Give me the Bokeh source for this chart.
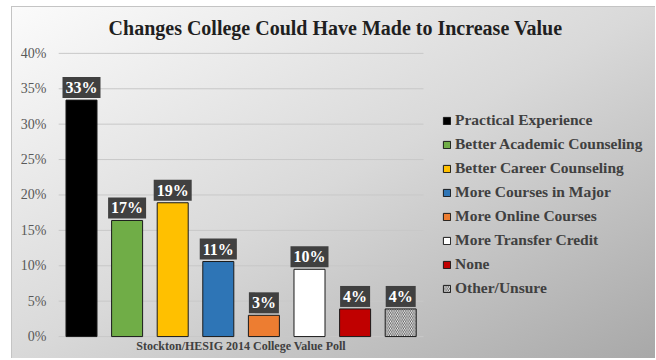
from bokeh.plotting import figure
from bokeh.models import ColumnDataSource, Label, Legend, LegendItem, PrintfTickFormatter, FixedTicker
from bokeh.core.properties import value
from bokeh.embed import file_html
from bokeh.resources import INLINE

# ---- data ----
categories = ["Practical Experience", "Better Academic Counseling", "Better Career Counseling",
              "More Courses in Major", "More Online Courses", "More Transfer Credit",
              "None", "Other/Unsure"]
values = [33.4, 16.4, 18.9, 10.6, 3.0, 9.5, 3.9, 3.9]
value_labels = ["33%", "17%", "19%", "11%", "3%", "10%", "4%", "4%"]
colors = ["#000000", "#70ad47", "#ffc000", "#2e75b6", "#ed7d31", "#ffffff", "#c00000", "#ffffff"]
hatches = [" ", " ", " ", " ", " ", " ", " ", "\\"]
y_ticks = [0, 5, 10, 15, 20, 25, 30, 35, 40]
title_text = "Changes College Could Have Made to Increase Value"
source_text = "Stockton/HESIG 2014 College Value Poll"

SERIF = "'Liberation Serif', 'Times New Roman', serif"
n = len(categories)
xs = list(range(n))

# layout (pixels)
fig_w, fig_h = 644, 352
left_border = 45
frame_w = fig_w - left_border
step_px = 45.6
px_per_unit = 7.1
zero_px_from_bottom = 23      # 0% line above the frame bottom
top_px = 46                   # 40% line below the frame top
x_start = -24 / step_px
x_end = x_start + frame_w / step_px
y_start = -zero_px_from_bottom / px_per_unit
y_end = y_ticks[-1] + top_px / px_per_unit

src = ColumnDataSource(dict(x=xs, top=values, color=colors, hatch=hatches,
                            label=value_labels, cat=categories))

p = figure(width=fig_w, height=fig_h, output_backend="svg", toolbar_location=None,
           x_range=(x_start, x_end), y_range=(y_start, y_end), x_axis_location=None,
           min_border_left=left_border, min_border_right=0, min_border_top=0, min_border_bottom=0)
p.margin = (6, 0, 0, 11)
p.styles = {"background": "linear-gradient(to bottom right, #fbfbfb 0%, #d9d9d9 50%, #a8a8a8 100%)",
            "border-left": "1px solid #c4c4c4", "border-top": "1px solid #c4c4c4"}
p.background_fill_alpha = 0
p.border_fill_alpha = 0
p.outline_line_color = None
p.xgrid.visible = False
p.ygrid.visible = False

# gridlines limited to the category span
p.segment(x0=[-0.5] * len(y_ticks), x1=[n - 0.5] * len(y_ticks), y0=y_ticks, y1=y_ticks,
          line_color="#c8c8c8", line_width=1)

# y axis
ax = p.yaxis[0]
ax.ticker = FixedTicker(ticks=y_ticks)
ax.formatter = PrintfTickFormatter(format="%d%%")
ax.axis_line_color = None
ax.major_tick_line_color = None
ax.minor_tick_line_color = None
ax.major_tick_out = 0
ax.major_label_standoff = 11
ax.major_label_text_font = SERIF
ax.major_label_text_font_size = "14px"
ax.major_label_text_color = "#595959"

bars = p.vbar(x="x", top="top", width=0.68, source=src, fill_color="color",
              line_color="#1a1a1a", line_width=1, hatch_pattern="hatch",
              hatch_color="#333333", hatch_scale=3.5, hatch_weight=0.8)

# value labels
p.text(x="x", y="top", text="label", source=src, text_align="center", text_baseline="bottom",
       y_offset=-2, text_font=value(SERIF), text_font_style="bold", text_font_size="16px",
       text_color="#ffffff", background_fill_color="#404040", padding=(3, 2))

# legend
items = [LegendItem(label=c, renderers=[bars], index=i) for i, c in enumerate(categories)]
legend = Legend(items=items, location=(385, 62), orientation="vertical",
                glyph_width=9, glyph_height=9, label_standoff=4, label_height=14, spacing=6,
                padding=0, margin=0, border_line_color=None, background_fill_alpha=0,
                label_text_font=SERIF, label_text_font_style="bold", label_text_font_size="15.5px",
                label_text_color="#404040")
p.add_layout(legend)

# title and source
p.add_layout(Label(x=278, y=332, x_units="screen", y_units="screen", text=title_text,
                   text_align="center", text_baseline="middle", text_font=SERIF,
                   text_font_style="bold", text_font_size="20px", text_color="#1f1f1f"))
p.add_layout(Label(x=(n - 1) / 2, y=14, x_units="data", y_units="screen", text=source_text,
                   text_align="center", text_baseline="middle", text_font=SERIF,
                   text_font_style="bold", text_font_size="12px", text_color="#404040"))

open("out.html", "w").write(file_html(p, INLINE))
